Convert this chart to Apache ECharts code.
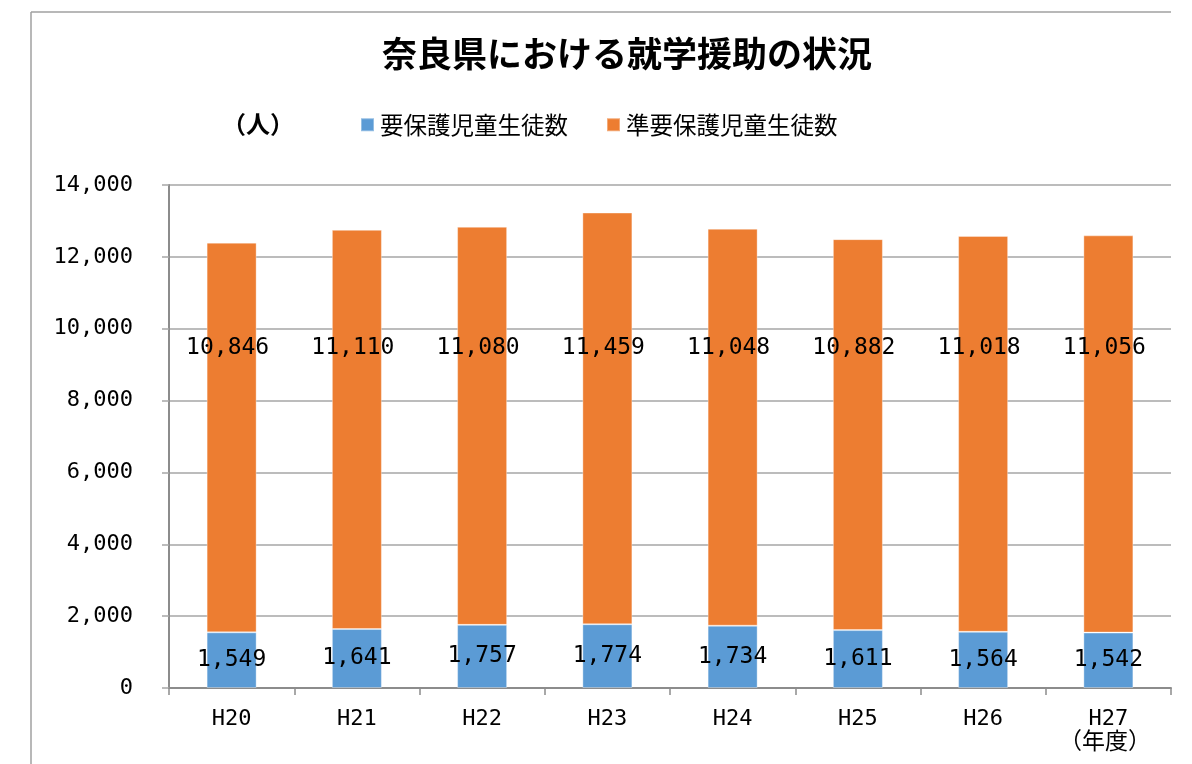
<!DOCTYPE html>
<html><head><meta charset="utf-8">
<script src="https://cdn.jsdelivr.net/npm/echarts@6/dist/echarts.min.js"></script>
<style>html,body{margin:0;padding:0;background:#fff}#c{width:1192px;height:764px}</style>
</head><body><div id="c"></div>
<script>
const categories = ['H20','H21','H22','H23','H24','H25','H26','H27'];
const seriesNames = ['要保護児童生徒数','準要保護児童生徒数'];
const protectedCounts = [1549,1641,1757,1774,1734,1611,1564,1542];
const semiProtectedCounts = [10846,11110,11080,11459,11048,10882,11018,11056];
const yTicks = {min:0, max:14000, interval:2000};
const titleText = '奈良県における就学援助の状況';
const unitText = '（人）';
const yearText = '（年度）';

const numFont = '"DejaVu Sans Mono", "Liberation Mono", monospace';
const jpFont = '"Noto Sans CJK JP", sans-serif';
const fmt = v => v.toLocaleString('en-US');

const chart = echarts.init(document.getElementById('c'));
const option = {
  animation:false,
  backgroundColor:'#fff',
  title:{text:titleText, left:377, top:31,
    textStyle:{fontFamily:jpFont, fontWeight:'bold', fontSize:35, color:'#000'}},
  legend:{left:355, top:108, itemWidth:13, itemHeight:13, itemGap:38, icon:'rect',
    textStyle:{fontFamily:jpFont, fontSize:23.5, color:'#000', padding:[0,0,0,1]},
    data:seriesNames},
  grid:{left:169, right:21, top:185, bottom:76, containLabel:false},
  xAxis:{type:'category', data:categories,
    axisLine:{lineStyle:{color:'#8c8c8c', width:2}},
    axisTick:{show:true, length:7, alignWithLabel:false, lineStyle:{color:'#8c8c8c', width:1.5}},
    axisLabel:{fontFamily:numFont, fontSize:22, color:'#000', margin:20}},
  yAxis:{type:'value', min:yTicks.min, max:yTicks.max, interval:yTicks.interval,
    axisLine:{show:true, lineStyle:{color:'#8c8c8c', width:2}},
    axisTick:{show:true, length:7, lineStyle:{color:'#a6a6a6', width:1.5}},
    splitLine:{lineStyle:{color:'#a6a6a6', width:1.5}},
    axisLabel:{fontFamily:numFont, fontSize:22, color:'#000', margin:36, formatter:v=>fmt(v)}},
  graphic:[
    {type:'line', shape:{x1:31,y1:12,x2:1171,y2:12}, style:{stroke:'#a0a0a0', lineWidth:1.5}},
    {type:'line', shape:{x1:31,y1:12,x2:31,y2:764}, style:{stroke:'#a0a0a0', lineWidth:1.5}},
    {type:'text', left:222, top:112, style:{text:unitText, font:'bold 24px '+jpFont, fill:'#000'}},
    {type:'text', left:1059, top:729, style:{text:yearText, font:'23px '+jpFont, fill:'#000'}}
  ],
  series:[
    {name:seriesNames[0], type:'bar', stack:'a', barWidth:50,
     itemStyle:{color:'#5b9bd5', borderColor:'rgba(255,255,255,0.35)', borderWidth:1},
     label:{show:true, position:'inside', fontFamily:numFont, fontSize:23, color:'#000',
       formatter:p=>fmt(p.value)},
     data:protectedCounts},
    {name:seriesNames[1], type:'bar', stack:'a', barWidth:50,
     itemStyle:{color:'#ed7d31', borderColor:'rgba(255,255,255,0.35)', borderWidth:1},
     label:{show:true, position:'inside', fontFamily:numFont, fontSize:23, color:'#000',
       formatter:p=>fmt(p.value)},
     data:semiProtectedCounts}
  ]
};
chart.setOption(option);
// place orange labels at a common height (like the reference) using the axis scale
const labelLevel = 9450;
const orangeData = semiProtectedCounts.map((v,i)=>{
  const mid = chart.convertToPixel({gridIndex:0},[i, protectedCounts[i]+v/2])[1];
  const lvl = chart.convertToPixel({gridIndex:0},[i, labelLevel])[1];
  return {value:v, label:{offset:[-4, lvl-mid]}};
});
chart.setOption({series:[{}, {data:orangeData}]});
</script></body></html>
